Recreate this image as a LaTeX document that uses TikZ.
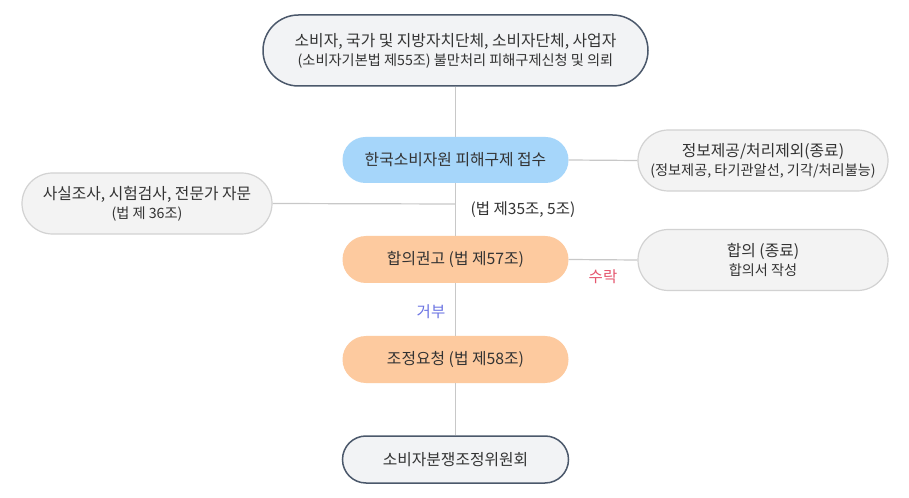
\documentclass[tikz,border=0pt]{standalone}
\usepackage{fontspec}
\setmainfont{Noto Sans CJK KR}
\definecolor{darkedge}{HTML}{4B586B}
\definecolor{lightfill}{HTML}{F2F3F5}
\definecolor{bluefill}{HTML}{A6D6FA}
\definecolor{peachfill}{HTML}{FDCA9F}
\definecolor{sidefill}{HTML}{F3F3F3}
\definecolor{sideedge}{HTML}{D2D2D2}
\definecolor{linegray}{HTML}{C8C8C8}
\definecolor{txt}{HTML}{333333}
\definecolor{acceptc}{HTML}{E5566E}
\definecolor{refusec}{HTML}{6B74E3}
\newcommand{\subfs}{\fontsize{14.2bp}{18bp}\selectfont}
\tikzset{
  pill/.style={rectangle, align=center, text=txt, inner sep=0pt, font=\fontsize{15.8bp}{20bp}\selectfont},
  darkpill/.style={pill, draw=darkedge, line width=1.5bp, fill=lightfill},
  bluepill/.style={pill, fill=bluefill, minimum width=226bp, minimum height=46bp, rounded corners=23bp},
  peachpill/.style={pill, fill=peachfill, minimum width=226bp, minimum height=47bp, rounded corners=23.5bp},
  sidepill/.style={pill, draw=sideedge, line width=1.2bp, fill=sidefill, minimum width=250bp, minimum height=61bp, rounded corners=30.5bp},
  conn/.style={draw=linegray, line width=1.2bp},
  lbl/.style={inner sep=0pt, font=\fontsize{15.5bp}{18bp}\selectfont}
}
\begin{document}
\begin{tikzpicture}[x=1bp,y=-1bp]
\useasboundingbox[fill=white] (0,0) rectangle (909,498);
\node[darkpill, minimum width=385bp, minimum height=71bp, rounded corners=35.5bp] (top) at (455.5,50.5)
  {소비자, 국가 및 지방자치단체, 소비자단체, 사업자\\[-1bp]{\subfs (소비자기본법 제55조) 불만처리 피해구제신청 및 의뢰}};
\node[bluepill] (recv) at (455.5,160) {한국소비자원 피해구제 접수};
\node[sidepill] (info) at (763,160.5)
  {정보제공/처리제외(종료)\\[-1bp]{\subfs (정보제공, 타기관알선, 기각/처리불능)}};
\node[sidepill] (fact) at (147,203.5)
  {사실조사, 시험검사, 전문가 자문\\[-1bp]{\subfs (법 제 36조)}};
\node[peachpill] (advise) at (455.5,259.5) {합의권고 (법 제57조)};
\node[sidepill] (agree) at (763,260)
  {합의 (종료)\\[-1bp]{\subfs 합의서 작성}};
\node[peachpill] (req) at (455.5,359.5) {조정요청 (법 제58조)};
\node[darkpill, minimum width=226bp, minimum height=47bp, rounded corners=23.5bp] (comm) at (455.5,459.5) {소비자분쟁조정위원회};
\coordinate (j1) at (455.5,204);
\draw[conn] (top.south) -- (recv.north);
\draw[conn] (recv.south) -- (advise.north);
\draw[conn] (advise.south) -- (req.north);
\draw[conn] (req.south) -- (comm.north);
\draw[conn] (fact.east) -- (j1);
\draw[conn] (recv.east) -- (info.west);
\draw[conn] (advise.east) -- (agree.west);
\node[lbl, text=txt] (law) at (523,210) {(법 제35조, 5조)};
\node[lbl, text=acceptc] (acc) at (603,277) {수락};
\node[lbl, text=refusec] (ref) at (431,312) {거부};
\end{tikzpicture}
\end{document}
